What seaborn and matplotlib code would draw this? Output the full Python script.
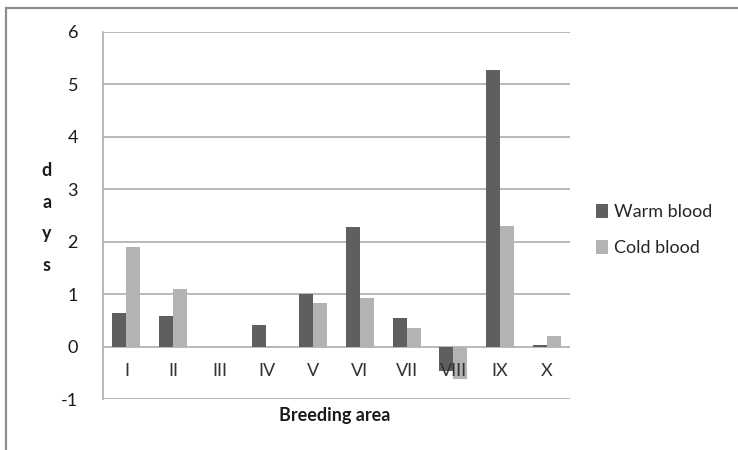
import matplotlib
matplotlib.use("Agg")
import matplotlib.pyplot as plt
from matplotlib.patches import Rectangle
import seaborn as sns
import pandas as pd

areas = ["I", "II", "III", "IV", "V", "VI", "VII", "VIII", "IX", "X"]
warm_blood = [0.65, 0.59, 0.0, 0.42, 1.00, 2.28, 0.55, -0.47, 5.28, 0.03]
cold_blood = [1.89, 1.09, 0.0, 0.02, 0.84, 0.93, 0.35, -0.62, 2.30, 0.20]
series_names = ["Warm blood", "Cold blood"]
y_ticks = [-1, 0, 1, 2, 3, 4, 5, 6]

df = pd.DataFrame({
    "area": areas * 2,
    "days": warm_blood + cold_blood,
    "series": [series_names[0]] * len(areas) + [series_names[1]] * len(areas),
})

sns.set_theme(style="white")
plt.rcParams["font.family"] = ["Lato", "DejaVu Sans"]

fig = plt.figure(figsize=(7.38, 4.5), dpi=100)
ax = fig.add_axes([0.1396, 0.1133, 0.6328, 0.8156])

sns.barplot(data=df, x="area", y="days", hue="series", order=areas,
            hue_order=series_names, palette=["#5f5f5f", "#b3b3b3"],
            width=0.6, saturation=1, ax=ax, legend=True, linewidth=0)

ax.set_ylim(-1, 6)
ax.set_yticks(y_ticks)
ax.set_yticklabels([str(t) for t in y_ticks], fontsize=13, color="#1a1a1a")
ax.yaxis.grid(True, color="#a6a6a6", linewidth=1.1)
ax.set_axisbelow(True)
ax.xaxis.set_zorder(5)

for s in ["top", "right"]:
    ax.spines[s].set_visible(False)
ax.spines["left"].set_color("#a6a6a6")
ax.spines["left"].set_linewidth(1.1)
ax.spines["bottom"].set_position(("data", 0))
ax.spines["bottom"].set_visible(False)
ax.tick_params(axis="x", length=0, pad=12, labelsize=13, labelcolor="#333333")
ax.tick_params(axis="y", length=0, pad=18)

ax.set_xlabel("")
ax.set_ylabel("")
fig.text(0.4539, 1 - 415 / 450, "Breeding area", ha="center", va="center",
         fontsize=13, fontweight="bold", color="#1a1a1a")
fig.text(47 / 738, 1 - 218 / 450, "d\na\ny\ns", ha="center", va="center",
         fontsize=13, fontweight="bold", color="#1a1a1a", linespacing=2.05)

ax.legend(loc="center left", bbox_to_anchor=(1.055, 0.46), frameon=False,
          fontsize=13, handlelength=0.7, handleheight=0.8, handletextpad=0.3,
          labelspacing=1.1, borderaxespad=0, borderpad=0)

fig.patches.append(Rectangle((6 / 738, -0.2), 1.2, 1.2 - 8 / 450,
                             transform=fig.transFigure, fill=False,
                             edgecolor="#8c8c8c", linewidth=1.6))

fig.savefig("out.png", dpi=100)
